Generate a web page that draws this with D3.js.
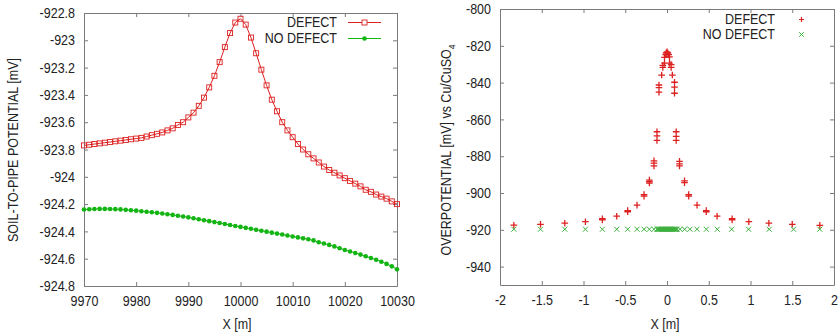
<!DOCTYPE html>
<html>
<head>
<meta charset="utf-8">
<script src="https://cdn.jsdelivr.net/npm/d3@7"></script>
<style>
  body { margin: 0; background: #fff; }
  svg { display: block; font-family: "Liberation Sans", Arial, sans-serif; }
  .tick text { font-size: 12.5px; fill: #222; }
  .domain, .tick line { stroke: #7a7a7a; }
</style>
</head>
<body>
<svg width="838" height="336"></svg>
<script>
// ---- left panel: soil-to-pipe potential along the pipe ----
const xLeft = [9970, 9971, 9972, 9973, 9974, 9975, 9976, 9977, 9978, 9979,
  9980, 9981, 9982, 9983, 9984, 9985, 9986, 9987, 9988, 9989,
  9990, 9991, 9992, 9993, 9994, 9995, 9996, 9997, 9998, 9999,
  10000, 10001, 10002, 10003, 10004, 10005, 10006, 10007, 10008, 10009,
  10010, 10011, 10012, 10013, 10014, 10015, 10016, 10017, 10018, 10019,
  10020, 10021, 10022, 10023, 10024, 10025, 10026, 10027, 10028, 10029, 10030];

const defectLeft = [-923.77, -923.765, -923.76, -923.755, -923.75, -923.745, -923.74, -923.735, -923.73, -923.725,
  -923.72, -923.715, -923.705, -923.695, -923.685, -923.675, -923.66, -923.645, -923.62, -923.60,
  -923.565, -923.53, -923.48, -923.42, -923.345, -923.26, -923.16, -923.05, -922.947, -922.87,
  -922.842, -922.885, -922.98, -923.095, -923.215, -923.33, -923.435, -923.52, -923.60, -923.66,
  -923.71, -923.76, -923.80, -923.835, -923.865, -923.895, -923.925, -923.95, -923.97, -923.99,
  -924.01, -924.03, -924.05, -924.07, -924.095, -924.11, -924.13, -924.145, -924.16, -924.18, -924.20];

const noDefectLeft = [-924.240, -924.238, -924.236, -924.235, -924.235, -924.236, -924.237, -924.239, -924.242, -924.245,
  -924.248, -924.252, -924.256, -924.260, -924.264, -924.269, -924.274, -924.279, -924.285, -924.291,
  -924.297, -924.304, -924.311, -924.318, -924.325, -924.332, -924.339, -924.346, -924.353, -924.360,
  -924.367, -924.374, -924.381, -924.388, -924.395, -924.402, -924.409, -924.416, -924.423, -924.430,
  -924.437, -924.444, -924.451, -924.458, -924.466, -924.480, -924.489, -924.499, -924.510, -924.523,
  -924.536, -924.547, -924.558, -924.570, -924.582, -924.595, -924.608, -924.622, -924.638, -924.656, -924.678];

const xTicksLeft = [9970, 9980, 9990, 10000, 10010, 10020, 10030];
const yTicksLeft = [-922.8, -923, -923.2, -923.4, -923.6, -923.8, -924, -924.2, -924.4, -924.6, -924.8];

// ---- right panel: overpotential around the defect ----
const defectRightX = [-1.834, -1.515, -1.224, -0.977, -0.774, -0.774, -0.602, -0.471, -0.471, -0.359,
  -0.275, -0.275, -0.211, -0.211, -0.211, -0.156, -0.156, -0.156, -0.12, -0.12, -0.12,
  -0.096, -0.096, -0.096, -0.064, -0.05, -0.05, -0.03, -0.03, -0.015, -0.01, 0, 0.01, 0.02,
  0.03, 0.03, 0.05, 0.05, 0.064, 0.09, 0.09, 0.09, 0.11, 0.11, 0.11,
  0.15, 0.15, 0.15, 0.21, 0.21, 0.26, 0.26, 0.36, 0.47, 0.47, 0.6, 0.78, 0.78, 0.98, 1.22, 1.5, 1.83];
const defectRightY = [-917.5, -917, -916.4, -915.6, -914.0, -914.6, -912.6, -909.6, -910.2, -906.6,
  -900.9, -901.7, -893.0, -893.8, -894.6, -882.5, -883.8, -885.3, -866.7, -868.9, -871.4,
  -841.3, -842.7, -845.2, -835.9, -830.6, -831.7, -826.3, -829.4, -824.8, -823.9, -823.3, -823.9, -824.8,
  -826.0, -829.4, -830.2, -831.7, -835.9, -839.8, -842.5, -845.8, -866.7, -869.2, -871.4,
  -882.8, -884.2, -885.3, -893.4, -894.4, -900.9, -901.7, -906.6, -909.6, -910.2, -912.6, -914.0, -914.6, -915.6, -916.4, -917, -917.6];

const noDefectRightX = [-1.834, -1.515, -1.224, -0.977, -0.774, -0.602, -0.471, -0.359, -0.275, -0.211, -0.156,
  -0.12, -0.11, -0.1, -0.09, -0.08, -0.07, -0.06, -0.05, -0.04, -0.03, -0.02, -0.01, 0,
  0.01, 0.02, 0.03, 0.04, 0.05, 0.06, 0.07, 0.08, 0.09, 0.1, 0.11, 0.12,
  0.156, 0.211, 0.275, 0.359, 0.471, 0.602, 0.774, 0.977, 1.224, 1.515, 1.83];
const noDefectRightY = noDefectRightX.map(() => -919.7);

const xTicksRight = [-2, -1.5, -1, -0.5, 0, 0.5, 1, 1.5, 2];
const yTicksRight = [-800, -820, -840, -860, -880, -900, -920, -940];

const RED = "#dd2020";
const GREEN = "#12b512";
const GREEN2 = "#3cb03c";
const K = 1.17; // the reference's lettering is taller than it is wide

const svg = d3.select("svg");

// stretch a text vertically about its own anchor point
function stretch(sel) {
  sel.each(function () {
    const t = d3.select(this);
    const y = +t.attr("y") || 0;
    const tr = t.attr("transform") || "";
    t.attr("y", y / K).attr("transform", `${tr} scale(1,${K})`);
  });
}

function frame(g, x, y, xTicks, yTicks, fmtX, fmtY) {
  const [x0, x1] = x.range();
  const [y0, y1] = y.range();
  g.append("g").attr("transform", `translate(0,${y0})`)
    .call(d3.axisBottom(x).tickValues(xTicks).tickFormat(fmtX).tickSizeInner(-4).tickSizeOuter(0).tickPadding(10));
  g.append("g").attr("transform", `translate(0,${y1})`)
    .call(d3.axisTop(x).tickValues(xTicks).tickFormat("").tickSizeInner(-4).tickSizeOuter(0));
  g.append("g").attr("transform", `translate(${x0},0)`)
    .call(d3.axisLeft(y).tickValues(yTicks).tickFormat(fmtY).tickSizeInner(-4).tickSizeOuter(0).tickPadding(9));
  g.append("g").attr("transform", `translate(${x1},0)`)
    .call(d3.axisRight(y).tickValues(yTicks).tickFormat("").tickSizeInner(-4).tickSizeOuter(0));
}

function label(g, x, y, txt, anchor) {
  return g.append("text").attr("x", x).attr("y", y).attr("text-anchor", anchor)
    .attr("font-size", 12.5).attr("fill", "#222").text(txt);
}

// ---------- left chart ----------
const xL = d3.scaleLinear().domain([9970, 10030]).range([84, 397]);
const yL = d3.scaleLinear().domain([-924.8, -922.8]).range([286, 13]);
const gL = svg.append("g");
frame(gL, xL, yL, xTicksLeft, yTicksLeft, d3.format("d"), d => String(+d.toFixed(1)));

const line = d3.line().x(d => xL(d[0])).y(d => yL(d[1]));
const defL = xLeft.map((x, i) => [x, defectLeft[i]]);
const noL = xLeft.map((x, i) => [x, noDefectLeft[i]]);

gL.append("path").datum(defL).attr("d", line).attr("fill", "none").attr("stroke", RED).attr("stroke-width", 1);
gL.selectAll(".sq").data(defL).join("rect")
  .attr("x", d => xL(d[0]) - 2.5).attr("y", d => yL(d[1]) - 2.5)
  .attr("width", 5).attr("height", 5)
  .attr("fill", "none").attr("stroke", RED).attr("stroke-width", 0.9);

gL.append("path").datum(noL).attr("d", line).attr("fill", "none").attr("stroke", GREEN).attr("stroke-width", 1);
gL.selectAll(".dot").data(noL).join("circle")
  .attr("cx", d => xL(d[0])).attr("cy", d => yL(d[1])).attr("r", 2.3)
  .attr("fill", GREEN);

// legend
label(gL, 337, 27, "DEFECT", "end");
label(gL, 337, 43, "NO DEFECT", "end");
gL.append("line").attr("x1", 348).attr("x2", 381).attr("y1", 22.5).attr("y2", 22.5).style("stroke", RED);
gL.append("rect").attr("x", 362).attr("y", 20).attr("width", 5).attr("height", 5)
  .style("fill", "#fff").style("stroke", RED).attr("stroke-width", 0.9);
gL.append("line").attr("x1", 348).attr("x2", 381).attr("y1", 38.5).attr("y2", 38.5).style("stroke", GREEN);
gL.append("circle").attr("cx", 364.5).attr("cy", 38.5).attr("r", 2.3).style("fill", GREEN);

label(gL, 237, 329, "X [m]", "middle");
label(gL, 0, 0, "SOIL-TO-PIPE POTENTIAL [mV]", "middle").attr("transform", "translate(18,150) rotate(-90)");

// ---------- right chart ----------
const xR = d3.scaleLinear().domain([-2, 2]).range([500, 834]);
const yR = d3.scaleLinear().domain([-950, -800]).range([285, 9]);
const gR = svg.append("g");
frame(gR, xR, yR, xTicksRight, yTicksRight, d => String(d), d => String(d));

const plus = (cx, cy, s) => `M${cx - s},${cy}H${cx + s}M${cx},${cy - s}V${cy + s}`;
const cross = (cx, cy, s) => `M${cx - s},${cy - s}L${cx + s},${cy + s}M${cx - s},${cy + s}L${cx + s},${cy - s}`;

gR.append("path")
  .attr("d", defectRightX.map((x, i) => plus(xR(x), yR(defectRightY[i]), 3.3)).join(""))
  .style("stroke", RED).attr("stroke-width", 1.3).style("fill", "none");
gR.append("path")
  .attr("d", noDefectRightX.map((x, i) => cross(xR(x), yR(noDefectRightY[i]), 2.5)).join(""))
  .style("stroke", GREEN2).attr("stroke-width", 1).style("fill", "none");

label(gR, 775, 24, "DEFECT", "end");
label(gR, 775, 39.5, "NO DEFECT", "end");
gR.append("path").attr("d", plus(801.5, 19.5, 2.5)).style("stroke", RED).attr("stroke-width", 1.2).style("fill", "none");
gR.append("path").attr("d", cross(801.5, 34.5, 2.3)).style("stroke", GREEN2).style("fill", "none");

label(gR, 665, 329, "X [m]", "middle");
const yl = gR.append("text").attr("x", 0).attr("y", 0).attr("transform", "translate(451,150) rotate(-90)")
  .attr("text-anchor", "middle").attr("font-size", 12.5).attr("fill", "#222");
yl.append("tspan").text("OVERPOTENTIAL [mV] vs Cu/CuSO");
yl.append("tspan").attr("font-size", 8.5).attr("dy", 3).text("4");

// taller lettering everywhere, as in the reference
stretch(svg.selectAll("text"));
</script>
</body>
</html>
